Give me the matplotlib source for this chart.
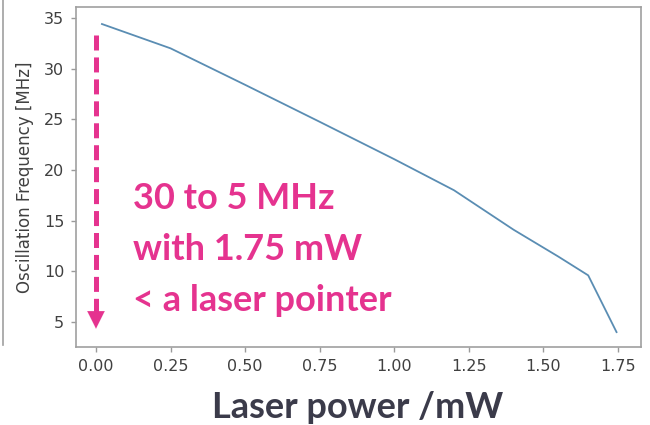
import matplotlib
matplotlib.use("Agg")
import matplotlib.pyplot as plt
from matplotlib.lines import Line2D

# Data
power_mw = [0.02, 0.25, 0.50, 0.75, 1.00, 1.20, 1.40, 1.55, 1.65, 1.745]
freq_mhz = [34.4, 32.0, 28.4, 24.75, 21.06, 18.0, 14.1, 11.45, 9.6, 4.0]
xticks = [0.00, 0.25, 0.50, 0.75, 1.00, 1.25, 1.50, 1.75]
yticks = [5, 10, 15, 20, 25, 30, 35]
annot_lines = ["30 to 5 MHz", "with 1.75 mW", "< a laser pointer"]

W, H = 650, 425
PINK = "#e5338f"
plt.rcParams["lines.scale_dashes"] = False
fig = plt.figure(figsize=(W / 100, H / 100), dpi=100)
ax = fig.add_axes([76 / W, 1 - 347 / H, (641 - 76) / W, (347 - 7) / H])

ax.plot(power_mw, freq_mhz, color="#5a8db3", lw=1.3)
ax.set_xlim(-0.067, 1.827)
ax.set_ylim(2.53, 36.08)
ax.set_xticks(xticks)
ax.set_xticklabels([f"{v:.2f}" for v in xticks])
ax.set_yticks(yticks)
for s in ax.spines.values():
    s.set_color("#a0a0a0")
    s.set_linewidth(1.2)
ax.tick_params(axis="both", colors="#9a9a9a", length=3.5, width=1,
               labelcolor="#404040", labelsize=11.5)
ax.tick_params(axis="x", pad=5)
ax.tick_params(axis="y", pad=5)
ax.set_ylabel("Oscillation Frequency [MHz]", fontsize=12, color="#404040", labelpad=7)

# dashed arrow
ax.plot([0, 0], [33.3, 6.0], color=PINK, lw=3.6, dashes=(10.8, 5.0), solid_capstyle="butt")
ax.annotate("", xy=(0, 4.34), xytext=(0, 6.0),
            arrowprops=dict(arrowstyle="-|>,head_length=1.0,head_width=0.5",
                            color=PINK, lw=0.1, shrinkA=0, shrinkB=0,
                            mutation_scale=12.5))

# annotation text
baselines = [209, 260.5, 311]
for txt, yb in zip(annot_lines, baselines):
    fig.text(133 / W, 1 - yb / H, txt, fontsize=26, fontweight="bold",
             family=["Lato", "DejaVu Sans"], color=PINK, va="baseline", ha="left")

fig.text(358 / W, 1 - 418 / H, "Laser power /mW", fontsize=26, fontweight="bold",
         family=["Lato", "DejaVu Sans"], color="#3b3b4a", va="baseline", ha="center")

# edge of neighbouring panel
fig.add_artist(Line2D([3 / W, 3 / W], [1 - 345 / H, 1.0], transform=fig.transFigure,
                      color="#a0a0a0", lw=1.2))

fig.savefig("out.png", dpi=100)
